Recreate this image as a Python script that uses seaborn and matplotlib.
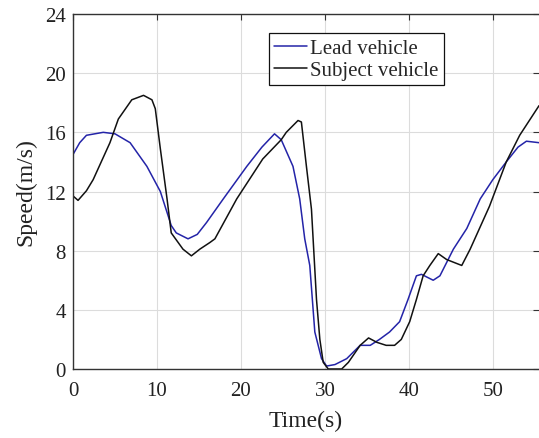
import numpy as np
import pandas as pd
import matplotlib
matplotlib.use("Agg")
import matplotlib.pyplot as plt
import seaborn as sns

# ---- data ----
lead_t = [0, 0.8, 1.6, 3.6, 5.0, 6.8, 8.8, 10.4, 11.7, 12.3, 13.7, 14.8, 15.9, 17.9,
          20.7, 22.5, 24.0, 24.8, 26.2, 27.0, 27.6, 28.2, 28.8, 29.6, 30.2, 31.2,
          32.6, 34.2, 35.4, 36.5, 37.7, 38.9, 39.9, 40.9, 41.5, 42.9, 43.7, 45.3,
          46.9, 48.5, 50.0, 51.6, 53.0, 54.0, 55.5]
lead_v = [14.5, 15.3, 15.8, 16.0, 15.9, 15.3, 13.7, 12.0, 9.7, 9.2, 8.8, 9.1, 9.9, 11.5,
          13.7, 15.0, 15.9, 15.5, 13.7, 11.5, 8.8, 7.0, 2.5, 0.7, 0.2, 0.3,
          0.7, 1.6, 1.6, 2.0, 2.5, 3.2, 4.7, 6.3, 6.4, 6.0, 6.3, 8.1,
          9.5, 11.5, 12.8, 14.0, 15.0, 15.4, 15.3]

subj_t = [0, 0.6, 1.6, 2.4, 4.4, 5.4, 7.0, 8.4, 9.4, 9.8, 10.4, 11.2, 11.7, 13.1, 14.1,
          15.1, 16.3, 16.9, 19.5, 22.6, 24.8, 25.4, 26.8, 27.2, 27.8, 28.4, 29.0,
          29.4, 29.8, 30.4, 32.0, 32.8, 34.2, 35.2, 36.2, 37.3, 38.3, 39.1, 40.1,
          40.9, 41.7, 42.5, 43.5, 44.5, 46.3, 47.3, 49.6, 51.6, 53.2, 55.5]
subj_v = [11.7, 11.4, 12.05, 12.8, 15.3, 16.9, 18.2, 18.5, 18.2, 17.6, 14.9, 11.5, 9.2, 8.1, 7.65,
          8.1, 8.55, 8.8, 11.5, 14.2, 15.5, 16.0, 16.8, 16.7, 13.7, 10.8, 4.7,
          2.0, 0.45, 0.0, 0.0, 0.45, 1.6, 2.1, 1.8, 1.6, 1.6, 2.0, 3.2,
          4.7, 6.3, 7.0, 7.8, 7.4, 7.0, 8.1, 11.0, 14.0, 15.8, 17.8]

series_names = ["Lead vehicle", "Subject vehicle"]
x_ticks = [0, 10, 20, 30, 40, 50]
y_ticks = [0, 4, 8, 12, 16, 20, 24]

df = pd.concat([
    pd.DataFrame({"Time": lead_t, "Speed": lead_v, "series": series_names[0]}),
    pd.DataFrame({"Time": subj_t, "Speed": subj_v, "series": series_names[1]}),
], ignore_index=True)

sns.set_theme(style="white")
plt.rcParams["font.family"] = ["Liberation Serif", "DejaVu Serif"]
plt.rcParams["mathtext.fontset"] = "stix"

fig = plt.figure(figsize=(5.39, 4.39), dpi=100)
ax = fig.add_axes([73 / 539, 1 - 370 / 439, 1 - 73 / 539, (370 - 15) / 439])

sns.lineplot(data=df, x="Time", y="Speed", hue="series", hue_order=series_names,
             palette={"Lead vehicle": "#2424a8", "Subject vehicle": "#111111"},
             estimator=None, sort=False, linewidth=1.1, ax=ax)

ax.set_xlim(0, 55.5)
ax.set_ylim(0, 24)
ax.set_xticks(x_ticks)
ax.set_yticks(y_ticks)
ax.grid(True, color="#dcdcdc", linewidth=0.8)
ax.set_axisbelow(True)

for side in ["left", "bottom", "top"]:
    ax.spines[side].set_visible(True)
    ax.spines[side].set_color("#333333")
    ax.spines[side].set_linewidth(1.0)
ax.spines["right"].set_visible(False)

ax.tick_params(axis="both", which="both", direction="in", length=4, width=0.8,
               color="#333333", top=True, right=True, labelsize=15, labelcolor="#222222")
ax.tick_params(axis="x", pad=9)
ax.tick_params(axis="y", pad=5)

ax.set_xlabel("Time(s)", fontsize=17, color="#222222", labelpad=7)
ax.set_ylabel("Speed(m/s)", fontsize=17, color="#222222", labelpad=6)

leg = ax.legend(loc="upper right", bbox_to_anchor=((444 - 73) / 466, (370 - 34) / 355),
                borderaxespad=0, frameon=True, fancybox=False, fontsize=15,
                handlelength=1.6, handletextpad=0.15, labelspacing=0.12,
                borderpad=0.25, title=None)
leg.get_frame().set_edgecolor("#111111")
leg.get_frame().set_linewidth(0.9)
leg.get_frame().set_alpha(1)

fig.savefig("out.png", dpi=100)
